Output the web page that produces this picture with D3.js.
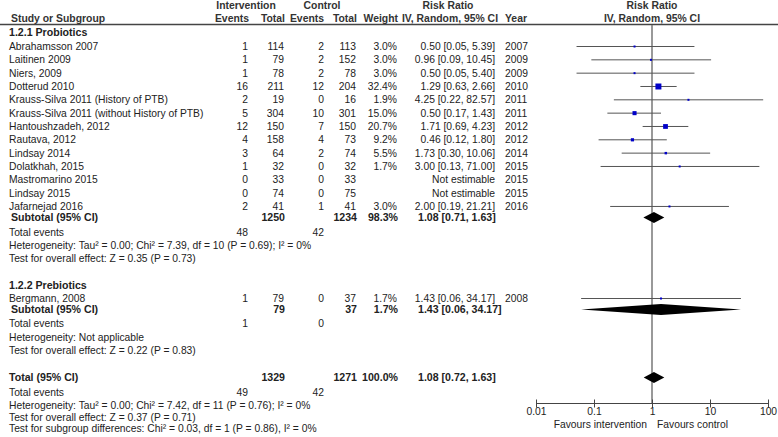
<!DOCTYPE html>
<meta charset="utf-8">
<script src="https://d3js.org/d3.v7.min.js"></script>
<style>
  body { margin: 0; background: #fff; }
  svg text { font-family: "Liberation Sans", Arial, sans-serif; font-size: 10.3px; fill: #222; }
  .b { font-weight: bold; font-size: 10.6px; }
  .h { font-weight: bold; font-size: 10.4px; fill: #333; }
</style>
<div id="my_dataviz"></div>
<script>
// study rows, subgroup 1.2.1 then 1.2.2
var studyNames = ["Abrahamsson 2007", "Laitinen 2009", "Niers, 2009", "Dotterud 2010",
  "Krauss-Silva 2011 (History of PTB)", "Krauss-Silva 2011 (without History of PTB)",
  "Hantoushzadeh, 2012", "Rautava, 2012", "Lindsay 2014", "Dolatkhah, 2015",
  "Mastromarino 2015", "Lindsay 2015", "Jafarnejad 2016", "Bergmann, 2008"];
var studyGroup = [1,1,1,1,1,1,1,1,1,1,1,1,1,2];
var evInt   = [1, 1, 1, 16, 2, 5, 12, 4, 3, 1, 0, 0, 2, 1];
var totInt  = [114, 79, 78, 211, 19, 304, 150, 158, 64, 32, 33, 74, 41, 79];
var evCtl   = [2, 2, 2, 12, 0, 10, 7, 4, 2, 0, 0, 0, 1, 0];
var totCtl  = [113, 152, 78, 204, 16, 301, 150, 73, 74, 32, 33, 75, 41, 37];
var weights = [3.0, 3.0, 3.0, 32.4, 1.9, 15.0, 20.7, 9.2, 5.5, 1.7, null, null, 3.0, 1.7];
var rr      = [0.50, 0.96, 0.50, 1.29, 4.25, 0.50, 1.71, 0.46, 1.73, 3.00, null, null, 2.00, 1.43];
var rrLo    = [0.05, 0.09, 0.05, 0.63, 0.22, 0.17, 0.69, 0.12, 0.30, 0.13, null, null, 0.19, 0.06];
var rrHi    = [5.39, 10.45, 5.40, 2.66, 82.57, 1.43, 4.23, 1.80, 10.06, 71.00, null, null, 21.21, 34.17];
var years   = [2007, 2009, 2009, 2010, 2011, 2011, 2012, 2012, 2014, 2015, 2015, 2015, 2016, 2008];

// pooled results: subgroup 1, subgroup 2, overall
var pooledLabel = ["Subtotal (95% CI)", "Subtotal (95% CI)", "Total (95% CI)"];
var pooledTotInt = [1250, 79, 1329];
var pooledTotCtl = [1234, 37, 1271];
var pooledEvInt = [48, 1, 49];
var pooledEvCtl = [42, 0, 42];
var pooledWeight = ["98.3%", "1.7%", "100.0%"];
var pooledRR = [1.08, 1.43, 1.08];
var pooledLo = [0.71, 0.06, 0.72];
var pooledHi = [1.63, 34.17, 1.63];
var pooledHet = [
  "Heterogeneity: Tau\u00b2 = 0.00; Chi\u00b2 = 7.39, df = 10 (P = 0.69); I\u00b2 = 0%",
  "Heterogeneity: Not applicable",
  "Heterogeneity: Tau\u00b2 = 0.00; Chi\u00b2 = 7.42, df = 11 (P = 0.76); I\u00b2 = 0%"];
var pooledZ = ["Test for overall effect: Z = 0.35 (P = 0.73)",
  "Test for overall effect: Z = 0.22 (P = 0.83)",
  "Test for overall effect: Z = 0.37 (P = 0.71)"];
var subgroupTest = "Test for subgroup differences: Chi\u00b2 = 0.03, df = 1 (P = 0.86), I\u00b2 = 0%";
var groupTitles = ["1.2.1 Probiotics", "1.2.2 Prebiotics"];

var tickValues = [0.01, 0.1, 1, 10, 100];
var tickLabels = ["0.01", "0.1", "1", "10", "100"];

var width = 778, height = 437;

var svg = d3.select("#my_dataviz")
  .append("svg")
    .attr("width", width)
    .attr("height", height);

var x = d3.scaleLog().domain([0.01, 100]).range([536, 768]);

function txt(xp, yc, s, anchor, cls) {
  return svg.append("text")
    .attr("x", xp).attr("y", yc + 4)
    .attr("text-anchor", anchor || "start")
    .attr("class", cls || null)
    .text(s);
}

// column right edges
var cEvI = 249, cTotI = 285, cEvC = 324, cTotC = 357, cW = 398, cCI = 495, cYear = 505;

// header
txt(246, 5, "Intervention", "middle", "h");
txt(322, 5, "Control", "middle", "h");
txt(448, 5, "Risk Ratio", "middle", "h");
txt(652, 5, "Risk Ratio", "middle", "h");
txt(11, 18, "Study or Subgroup", "start", "h");
txt(cEvI, 18, "Events", "end", "h");
txt(cTotI, 18, "Total", "end", "h");
txt(cEvC, 18, "Events", "end", "h");
txt(cTotC, 18, "Total", "end", "h");
txt(cW, 18, "Weight", "end", "h");
txt(450, 18, "IV, Random, 95% CI", "middle", "h");
txt(cYear, 18, "Year", "start", "h");
txt(652, 18, "IV, Random, 95% CI", "middle", "h");

svg.append("line")
  .attr("x1", 0).attr("x2", width).attr("y1", 24.5).attr("y2", 24.5)
  .attr("stroke", "#444").attr("stroke-width", 1.5);

// null line
svg.append("line")
  .attr("x1", x(1)).attr("x2", x(1)).attr("y1", 25).attr("y2", 403)
  .attr("stroke", "#777").attr("stroke-width", 1.5);

var step = 13.33;
// y positions of rows per block
var blocks = [
  { title: 32, first: 46, sub: 217, ev: 232, het: 245, z: 258 },
  { title: 285, first: 298, sub: 309, ev: 323, het: 337, z: 350 },
  { title: null, first: null, sub: 377, ev: 392, het: 405, z: 417 }
];

var fmt = d3.format(".2f");

[1, 2].forEach(function (g, gi) {
  var bl = blocks[gi];
  txt(9, bl.title, groupTitles[gi], "start", "b");
  var idx = d3.range(studyNames.length).filter(function (i) { return studyGroup[i] === g; });
  idx.forEach(function (i, k) {
    var yc = bl.first + k * step;
    txt(9, yc, studyNames[i]);
    txt(cEvI - 1, yc, evInt[i], "end");
    txt(cTotI - 1, yc, totInt[i], "end");
    txt(cEvC, yc, evCtl[i], "end");
    txt(cTotC - 1, yc, totCtl[i], "end");
    txt(cYear, yc, years[i]);
    if (rr[i] == null) {
      txt(cCI, yc, "Not estimable", "end");
      return;
    }
    txt(cW - 1, yc, weights[i].toFixed(1) + "%", "end");
    txt(cCI, yc, fmt(rr[i]) + " [" + fmt(rrLo[i]) + ", " + fmt(rrHi[i]) + "]", "end");
    svg.append("line")
      .attr("x1", x(rrLo[i])).attr("x2", x(rrHi[i]))
      .attr("y1", yc + 0.5).attr("y2", yc + 0.5)
      .attr("stroke", "#555").attr("stroke-width", 1);
    var s = Math.max(2, Math.sqrt(weights[i]) * 1.05);
    svg.append("rect")
      .attr("x", x(rr[i]) - s / 2).attr("y", yc + 0.5 - s / 2)
      .attr("width", s).attr("height", s)
      .attr("fill", "#0000c8");
  });
});

// pooled rows
blocks.forEach(function (bl, p) {
  txt(p === 2 ? 9 : 11, bl.sub, pooledLabel[p], "start", "b");
  txt(cTotI, bl.sub, pooledTotInt[p], "end", "b");
  txt(cTotC, bl.sub, pooledTotCtl[p], "end", "b");
  txt(cW, bl.sub, pooledWeight[p], "end", "b");
  txt(418, bl.sub, fmt(pooledRR[p]) + " [" + fmt(pooledLo[p]) + ", " + fmt(pooledHi[p]) + "]", "start", "b");
  txt(9, bl.ev, "Total events");
  txt(cEvI - 1, bl.ev, pooledEvInt[p], "end");
  txt(cEvC, bl.ev, pooledEvCtl[p], "end");
  txt(9, bl.het, pooledHet[p]);
  txt(9, bl.z, pooledZ[p]);
  var yc = bl.sub + 0.5, h = 5.5;
  svg.append("path")
    .attr("d", "M" + x(pooledLo[p]) + "," + yc +
               "L" + x(pooledRR[p]) + "," + (yc - h) +
               "L" + x(pooledHi[p]) + "," + yc +
               "L" + x(pooledRR[p]) + "," + (yc + h) + "Z")
    .attr("fill", "#000");
});
txt(9, 428, subgroupTest);

// axis
var axis = svg.append("g")
  .attr("transform", "translate(0,403.5)")
  .call(d3.axisBottom(x).tickValues(tickValues)
    .tickFormat(function (d, i) { return tickLabels[i]; })
    .tickSize(4));
axis.select(".domain").attr("stroke", "#444").attr("d", "M536,0H768");
axis.selectAll(".tick line").attr("y1", -4).attr("y2", 4).attr("stroke", "#444");
axis.selectAll(".tick text")
  .attr("y", 11.5).attr("dy", null)
  .style("font-family", "Liberation Sans, Arial, sans-serif")
  .style("font-size", "10.3px").attr("fill", "#222");

txt(647, 424, "Favours intervention", "end");
txt(657, 424, "Favours control", "start");
</script>
